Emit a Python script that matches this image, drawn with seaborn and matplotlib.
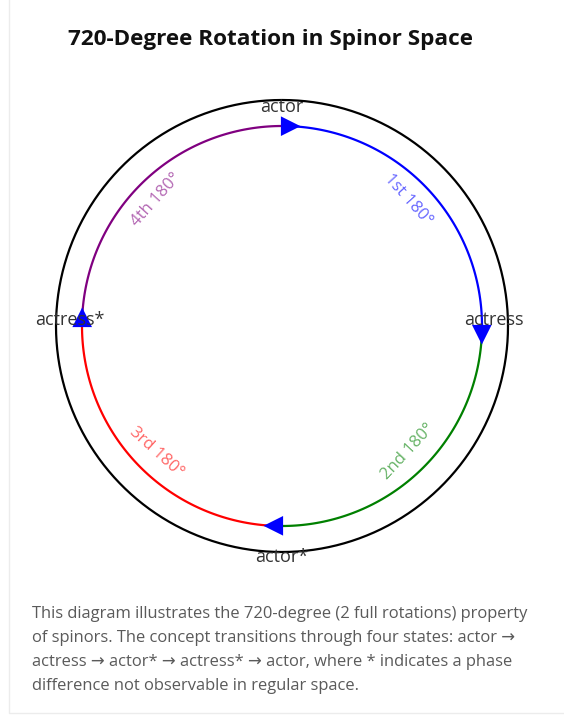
import matplotlib.pyplot as plt
import numpy as np
import pandas as pd
import seaborn as sns
from matplotlib.patches import Rectangle

# states around the circle (math angle in degrees, screen y points down)
states = ["actor", "actress", "actor*", "actress*"]
state_angles = [90, 0, -90, 180]
arrow_markers = [">", "v", "<", "^"]

# the four half-turn segments, each running clockwise from one state to the next
segments = ["1st 180°", "2nd 180°", "3rd 180°", "4th 180°"]
seg_start = [90, 0, -90, -180]
seg_end = [0, -90, -180, -270]
seg_colors = ["blue", "green", "red", "purple"]

title = "720-Degree Rotation in Spinor Space"
caption = (
    "This diagram illustrates the 720-degree (2 full rotations) property\n"
    "of spinors. The concept transitions through four states: actor \u2192\n"
    "actress \u2192 actor* \u2192 actress* \u2192 actor, where * indicates a phase\n"
    "difference not observable in regular space."
)

CX, CY = 282, 326
R_INNER, R_OUTER = 200, 226


def to_xy(theta_deg, r):
    t = np.deg2rad(theta_deg)
    return CX + r * np.cos(t), CY - r * np.sin(t)


sns.set_theme(style="white")
plt.rcParams["font.family"] = ["Open Sans", "DejaVu Sans"]

fig = plt.figure(figsize=(5.64, 7.17), dpi=100)
ax = fig.add_axes([0, 0, 1, 1])
ax.set_xlim(0, 564)
ax.set_ylim(717, 0)
ax.axis("off")

# faint card border
ax.add_patch(Rectangle((9, -5), 600, 718, fill=False, edgecolor="#ececec", lw=1))

# outer reference circle
th = np.linspace(0, 360, 361)
ox, oy = to_xy(th, R_OUTER)
sns.lineplot(x=ox, y=oy, sort=False, estimator=None, color="black", lw=1.6, ax=ax)

# coloured arcs
rows = []
for seg, a0, a1 in zip(segments, seg_start, seg_end):
    for t in np.linspace(a0, a1, 91):
        x, y = to_xy(t, R_INNER)
        rows.append({"segment": seg, "x": x, "y": y})
arcs = pd.DataFrame(rows)
sns.lineplot(data=arcs, x="x", y="y", hue="segment", units="segment",
             palette=dict(zip(segments, seg_colors)), sort=False, estimator=None,
             lw=1.6, legend=False, ax=ax)

# arrowheads just past each state, pointing along the motion
ax_, ay_ = to_xy(np.array(state_angles) - 2.5, R_INNER)
arrows = pd.DataFrame({"state": states, "x": ax_, "y": ay_})
sns.scatterplot(data=arrows, x="x", y="y", style="state",
                markers=dict(zip(states, arrow_markers)), color="blue",
                s=200, linewidth=0, legend=False, ax=ax, zorder=5)

# state labels
label_pos = {"actor": (0, -219), "actress": (212, -6), "actor*": (0, 231), "actress*": (-212, -6)}
for s in states:
    dx, dy = label_pos[s]
    ax.text(CX + dx, CY + dy, s, ha="center", va="center", fontsize=13,
            color="#333333", zorder=6)

# segment labels along the arcs
seg_rot = [-48, 47, -42, 48]
for seg, a0, a1, c, rot in zip(segments, seg_start, seg_end, seg_colors, seg_rot):
    x, y = to_xy((a0 + a1) / 2, 178)
    ax.text(x, y, seg, ha="center", va="center", rotation=rot, fontsize=12,
            color=c, alpha=0.6, rotation_mode="anchor")

ax.text(271, 40, title, ha="center", va="center", fontsize=16.2,
        fontweight="bold", color="#111111")
ax.text(32, 606, caption, ha="left", va="top", fontsize=11.9,
        color="#5a5a5a", linespacing=1.66)

fig.savefig("out.png", dpi=100, facecolor="white")
